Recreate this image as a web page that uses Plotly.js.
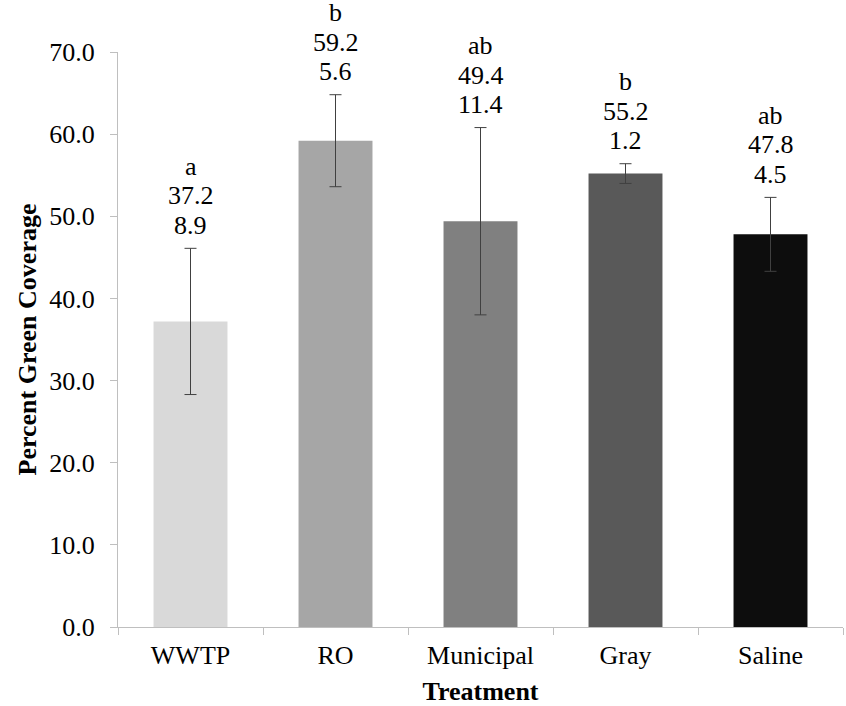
<!DOCTYPE html>
<html>
<head>
<meta charset="utf-8">
<script src="https://cdn.plot.ly/plotly-3.0.1.min.js"></script>
<style>html,body{margin:0;padding:0;background:#fff;}#chart{width:846px;height:706px;}</style>
</head>
<body>
<div id="chart"></div>
<script>
const categories = ["WWTP", "RO", "Municipal", "Gray", "Saline"];
const means = [37.2, 59.2, 49.4, 55.2, 47.8];
const sds = [8.9, 5.6, 11.4, 1.2, 4.5];
const groups = ["a", "b", "ab", "b", "ab"];
const barColors = ["#d9d9d9", "#a6a6a6", "#808080", "#595959", "#0d0d0d"];

const FONT = "Liberation Serif";

const trace = {
  type: "bar",
  x: categories,
  y: means,
  marker: {color: barColors, line: {width: 0}},
  error_y: {type: "data", array: sds, visible: true, color: "#404040", thickness: 1, width: 6},
  hoverinfo: "none"
};

const annotations = [];
categories.forEach((c, i) => {
  const top = means[i] + sds[i];
  const lines = [groups[i], means[i].toFixed(1), sds[i].toFixed(1)];
  lines.forEach((t, k) => {
    annotations.push({
      x: c, y: top, xref: "x", yref: "y",
      text: t, showarrow: false,
      yanchor: "middle", xanchor: "center",
      yshift: 23 + (2 - k) * 29.5,
      font: {family: FONT, size: 26, color: "#000"}
    });
  });
});

const layout = {
  width: 846, height: 706,
  margin: {l: 118, r: 3, t: 52, b: 79},
  paper_bgcolor: "#fff", plot_bgcolor: "#fff",
  showlegend: false,
  bargap: 0.49,
  font: {family: FONT, size: 26, color: "#000"},
  xaxis: {
    showline: true, linecolor: "#bfbfbf", linewidth: 1,
    ticks: "outside", tickson: "boundaries", ticklen: 7, tickcolor: "#bfbfbf",
    showgrid: false, zeroline: false,
    ticklabelstandoff: 5,
    tickfont: {family: FONT, size: 26, color: "#000"},
    title: {text: "<b>Treatment</b>", font: {family: FONT, size: 26, color: "#000"}, standoff: 14}
  },
  yaxis: {
    range: [0, 70], dtick: 10, tickformat: ".1f",
    showline: true, linecolor: "#bfbfbf", linewidth: 1,
    ticks: "outside", ticklen: 7, tickcolor: "#bfbfbf",
    showgrid: false, zeroline: false,
    ticklabelstandoff: 10,
    tickfont: {family: FONT, size: 26, color: "#000"},
    title: {text: "<b>Percent Green Coverage</b>", font: {family: FONT, size: 26, color: "#000"}, standoff: 5}
  },
  annotations: annotations
};

Plotly.newPlot("chart", [trace], layout, {displayModeBar: false, staticPlot: true});
</script>
</body>
</html>
